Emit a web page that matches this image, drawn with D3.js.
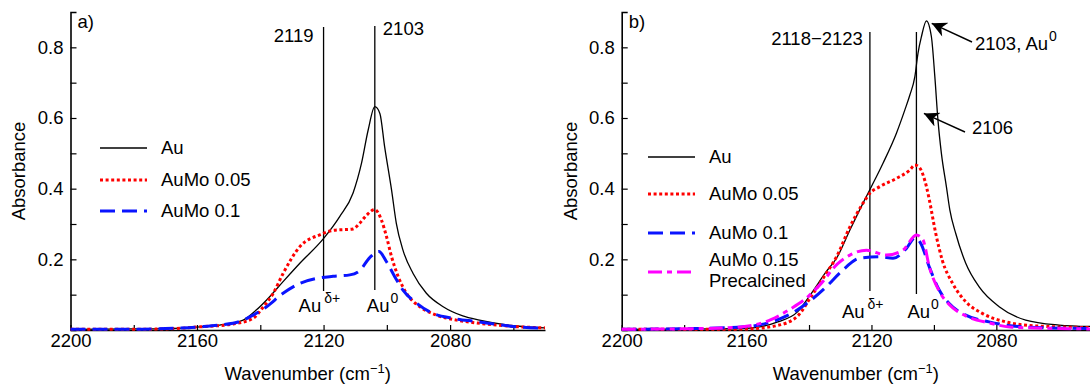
<!DOCTYPE html>
<html>
<head>
<meta charset="utf-8">
<script src="https://cdn.jsdelivr.net/npm/d3@7"></script>
<style>
  body { margin: 0; background: #fff; }
  svg text { font-family: "Liberation Sans", Arial, sans-serif; font-size: 18.5px; fill: #000; }
</style>
</head>
<body>
<script>
// ---- data (wavenumber in cm-1, absorbance) ----
// panel a)
var aAuWn   = [2200, 2180, 2170, 2159, 2152.8, 2145.4, 2141.2, 2138, 2132.8, 2127.5, 2120.1, 2114.9, 2110.7, 2108, 2105.9, 2103.8, 2102.2, 2100.7, 2098.5, 2097, 2094.9, 2091.7, 2087.5, 2082.2, 2076, 2070.7, 2060, 2050];
var aAuAbs  = [0.002, 0.003, 0.004, 0.009, 0.014, 0.028, 0.057, 0.085, 0.137, 0.189, 0.258, 0.321, 0.387, 0.472, 0.566, 0.632, 0.613, 0.519, 0.396, 0.302, 0.226, 0.16, 0.104, 0.066, 0.04, 0.028, 0.012, 0.006];
var aMo05Wn  = [2200, 2180, 2170, 2159, 2148.6, 2142.3, 2139, 2135.9, 2132.8, 2127.5, 2121, 2117, 2110.7, 2108.6, 2106.4, 2103.8, 2101.7, 2100.1, 2098.5, 2096.4, 2093.8, 2089.6, 2084.3, 2078, 2071.7, 2060, 2050];
var aMo05Abs = [0.002, 0.002, 0.003, 0.009, 0.017, 0.033, 0.066, 0.104, 0.16, 0.236, 0.27, 0.282, 0.286, 0.302, 0.325, 0.341, 0.311, 0.264, 0.207, 0.151, 0.104, 0.066, 0.042, 0.028, 0.02, 0.01, 0.006];
var aMo1Wn  = [2200, 2180, 2170, 2159, 2152.8, 2146.5, 2142.3, 2138, 2132.8, 2127.5, 2122.2, 2117, 2111.7, 2108.6, 2105.4, 2102.5, 2100.1, 2097.5, 2094.9, 2090.6, 2085.4, 2079.1, 2071.7, 2060, 2050];
var aMo1Abs = [0.002, 0.002, 0.004, 0.009, 0.014, 0.024, 0.042, 0.066, 0.104, 0.132, 0.146, 0.152, 0.156, 0.168, 0.205, 0.222, 0.193, 0.151, 0.113, 0.076, 0.047, 0.033, 0.024, 0.01, 0.005];

// panel b)
var bAuWn   = [2200, 2170, 2159.7, 2150, 2143.6, 2139.3, 2134.5, 2131.2, 2126.9, 2122.7, 2120, 2116.3, 2112, 2109.3, 2107.7, 2106.1, 2105.1, 2104, 2102.4, 2100.8, 2099.7, 2098.7, 2097.6, 2096, 2094.9, 2093, 2089.8, 2085.5, 2079.1, 2070.6, 2059.9, 2050];
var bAuAbs  = [0.002, 0.003, 0.005, 0.023, 0.052, 0.103, 0.165, 0.203, 0.283, 0.359, 0.406, 0.472, 0.557, 0.623, 0.665, 0.717, 0.783, 0.83, 0.875, 0.83, 0.717, 0.594, 0.5, 0.406, 0.34, 0.273, 0.189, 0.122, 0.066, 0.028, 0.014, 0.01];
var bMo05Wn  = [2200, 2170, 2160, 2150, 2143.6, 2139.3, 2134.5, 2131.2, 2126.9, 2122.7, 2120.5, 2117.3, 2112, 2107.7, 2106.1, 2104.5, 2102.4, 2101.5, 2099.4, 2097.3, 2094, 2089.8, 2084.5, 2077, 2066.4, 2050];
var bMo05Abs = [0.002, 0.002, 0.003, 0.013, 0.04, 0.095, 0.16, 0.207, 0.292, 0.359, 0.387, 0.406, 0.429, 0.453, 0.467, 0.458, 0.406, 0.37, 0.273, 0.197, 0.132, 0.08, 0.047, 0.023, 0.011, 0.007];
var bMo1Wn  = [2200, 2176.6, 2160.6, 2152, 2144.6, 2139.3, 2134.5, 2129.7, 2123.8, 2117.3, 2113.1, 2108.8, 2106.1, 2104.2, 2101.5, 2098.3, 2095.1, 2089.8, 2082.3, 2071.7, 2050];
var bMo1Abs = [0.002, 0.004, 0.009, 0.023, 0.052, 0.085, 0.122, 0.165, 0.203, 0.207, 0.203, 0.231, 0.26, 0.245, 0.179, 0.113, 0.075, 0.042, 0.023, 0.009, 0.004];
var bMo15Wn  = [2200, 2170, 2160.6, 2152, 2145.7, 2140.4, 2136.1, 2130.8, 2126.9, 2121.6, 2115.2, 2109.9, 2105.6, 2103.5, 2101.5, 2098.3, 2095.1, 2089.8, 2082.3, 2075, 2050];
var bMo15Abs = [0.002, 0.005, 0.01, 0.03, 0.061, 0.094, 0.132, 0.188, 0.212, 0.226, 0.212, 0.226, 0.269, 0.255, 0.18, 0.11, 0.072, 0.04, 0.02, 0.008, 0.003];

var xTicks = [2200, 2180, 2160, 2140, 2120, 2100, 2080, 2060];
var yTicks = [0.1, 0.2, 0.3, 0.4, 0.5, 0.6, 0.7, 0.8];

// ---- styles ----
var styles = {
    au:   {color: "#000", width: 1.3, dash: null},
    mo05: {color: "#ff0000", width: 3, dash: "3,2.6"},
    mo1:  {color: "#0a14ff", width: 3, dash: "15,7"},
    mo15: {color: "#ff00ff", width: 3, dash: "14,5,5,5"}
};

var svg = d3.select("body").append("svg")
    .attr("width", 1090)
    .attr("height", 385);

var plotTop = 12, plotBottom = 330;

function zip(wn, abs) {
    return wn.map(function(w, i) { return {w: w, a: abs[i]}; });
}

function drawPanel(opt) {
    var x = d3.scaleLinear().domain([2200, 2050]).range([opt.left, opt.right]);
    var y = d3.scaleLinear().domain([0, 0.9]).range([plotBottom, plotTop]);
    var g = svg.append("g");

    // axes
    var xAxis = d3.axisBottom(x)
        .tickValues(xTicks)
        .tickSizeInner(-5)
        .tickSizeOuter(0)
        .tickPadding(4)
        .tickFormat(function(d) { return d % 40 === 0 ? d : ""; });
    var yAxis = d3.axisLeft(y)
        .tickValues(yTicks)
        .tickSizeInner(-6)
        .tickSizeOuter(-6)
        .tickPadding(7)
        .tickFormat(function(d) { return Math.round(d * 10) % 2 === 0 ? d3.format(".1f")(d) : ""; });

    function styleAxis(s) {
        s.select(".domain").attr("stroke-width", 1.6);
        s.selectAll(".tick line").attr("stroke-width", 1.2);
        s.selectAll("text").attr("font-size", null).attr("font-family", null).attr("fill", "#000");
    }
    g.append("g")
        .attr("transform", "translate(0," + plotBottom + ")")
        .call(xAxis)
        .call(styleAxis);
    g.append("g")
        .attr("transform", "translate(" + opt.left + ",0)")
        .call(yAxis)
        .call(styleAxis);

    // axis titles
    g.append("text")
        .attr("transform", "translate(" + opt.ylabelX + "," + 171 + ") rotate(-90)")
        .attr("text-anchor", "middle")
        .text("Absorbance");
    var xt = g.append("text")
        .attr("x", (opt.left + opt.right) / 2)
        .attr("y", 380)
        .attr("text-anchor", "middle");
    xt.append("tspan").text("Wavenumber (cm");
    xt.append("tspan").attr("font-size", 13).attr("dy", -7).text("\u22121");
    xt.append("tspan").attr("dy", 7).text(")");

    g.append("text").attr("x", opt.left + 7).attr("y", 28).text(opt.tag);

    // annotation lines
    opt.marks.forEach(function(m) {
        g.append("line")
            .attr("x1", x(m.w)).attr("x2", x(m.w))
            .attr("y1", m.y1).attr("y2", m.y2)
            .attr("stroke", "#000").attr("stroke-width", 1.3);
        if (m.label) {
            g.append("text")
                .attr("x", x(m.w) + m.dx).attr("y", m.ly)
                .attr("text-anchor", m.anchor)
                .text(m.label);
        }
        var t = g.append("text")
            .attr("x", x(m.w) + m.sdx).attr("y", m.sy)
            .attr("text-anchor", "start");
        t.append("tspan").text("Au");
        t.append("tspan").attr("font-size", 14).attr("dy", -9).attr("dx", m.sup === "\u03b4+" ? 3 : 1).text(m.sup);
    });

    // curves
    var line = d3.line()
        .x(function(d) { return x(d.w); })
        .y(function(d) { return y(d.a); })
        .curve(d3.curveMonotoneX);

    opt.series.forEach(function(s) {
        var st = styles[s.key];
        g.append("path")
            .datum(zip(s.wn, s.abs))
            .attr("fill", "none")
            .attr("stroke", st.color)
            .attr("stroke-width", st.width)
            .attr("stroke-dasharray", st.dash)
            .attr("d", line);
    });

    // legend
    opt.legend.forEach(function(l) {
        var st = styles[l.key];
        g.append("line")
            .attr("x1", opt.legX).attr("x2", opt.legX + 47)
            .attr("y1", l.ly).attr("y2", l.ly)
            .attr("stroke", st.color)
            .attr("stroke-width", st.width)
            .attr("stroke-dasharray", st.dash);
        l.text.forEach(function(tx, i) {
            g.append("text")
                .attr("x", opt.legX + 61)
                .attr("y", l.ty + i * 21)
                .attr("dy", "0.35em")
                .text(tx);
        });
    });

    return {g: g, x: x, y: y};
}

var pa = drawPanel({
    left: 70.5, right: 545, ylabelX: 25, tag: "a)", legX: 100,
    series: [
        {key: "au", wn: aAuWn, abs: aAuAbs},
        {key: "mo05", wn: aMo05Wn, abs: aMo05Abs},
        {key: "mo1", wn: aMo1Wn, abs: aMo1Abs}
    ],
    legend: [
        {key: "au", ly: 148, ty: 148, text: ["Au"]},
        {key: "mo05", ly: 180, ty: 180, text: ["AuMo 0.05"]},
        {key: "mo1", ly: 211, ty: 211, text: ["AuMo 0.1"]}
    ],
    marks: [
        {w: 2120, y1: 27, y2: 291, label: "2119", dx: -10, ly: 42, anchor: "end", sdx: -25, sy: 312, sup: "\u03b4+"},
        {w: 2103.8, y1: 26, y2: 290, label: "2103", dx: 8, ly: 35, anchor: "start", sdx: -8, sy: 312, sup: "0"}
    ]
});

var pb = drawPanel({
    left: 621.7, right: 1090, ylabelX: 577, tag: "b)", legX: 648,
    series: [
        {key: "au", wn: bAuWn, abs: bAuAbs},
        {key: "mo05", wn: bMo05Wn, abs: bMo05Abs},
        {key: "mo1", wn: bMo1Wn, abs: bMo1Abs},
        {key: "mo15", wn: bMo15Wn, abs: bMo15Abs}
    ],
    legend: [
        {key: "au", ly: 157, ty: 157, text: ["Au"]},
        {key: "mo05", ly: 194, ty: 194, text: ["AuMo 0.05"]},
        {key: "mo1", ly: 233, ty: 233, text: ["AuMo 0.1"]},
        {key: "mo15", ly: 272, ty: 260, text: ["AuMo 0.15", "Precalcined"]}
    ],
    marks: [
        {w: 2120.5, y1: 32, y2: 291, label: "2118\u22122123", dx: -7, ly: 45, anchor: "end", sdx: -28, sy: 318, sup: "\u03b4+"},
        {w: 2105.6, y1: 32, y2: 294, label: null, sdx: -9, sy: 318, sup: "0"}
    ]
});

// arrows in panel b
var defs = svg.append("defs");
defs.append("marker")
    .attr("id", "head")
    .attr("viewBox", "0 0 10 10")
    .attr("refX", 10).attr("refY", 5)
    .attr("markerWidth", 17).attr("markerHeight", 15)
    .attr("markerUnits", "userSpaceOnUse")
    .attr("orient", "auto-start-reverse")
    .append("path")
    .attr("d", "M0,0 L10,5 L0,10 L3,5 Z")
    .attr("fill", "#000");

var arrows = [
    {tipW: 2100.7, tipA: 0.868, x2: 972, y2: 42, tx: 975, ty: 50, text: "2103, Au", sup: "0"},
    {tipW: 2103.2, tipA: 0.613, x2: 965, y2: 132, tx: 972, ty: 134, text: "2106", sup: null}
];
arrows.forEach(function(a) {
    pb.g.append("line")
        .attr("x1", a.x2).attr("y1", a.y2)
        .attr("x2", pb.x(a.tipW)).attr("y2", pb.y(a.tipA))
        .attr("stroke", "#000").attr("stroke-width", 1.4)
        .attr("marker-end", "url(#head)");
    var t = pb.g.append("text").attr("x", a.tx).attr("y", a.ty);
    t.append("tspan").text(a.text);
    if (a.sup) t.append("tspan").attr("font-size", 14).attr("dy", -9).attr("dx", 1).text(a.sup);
});
</script>
</body>
</html>
